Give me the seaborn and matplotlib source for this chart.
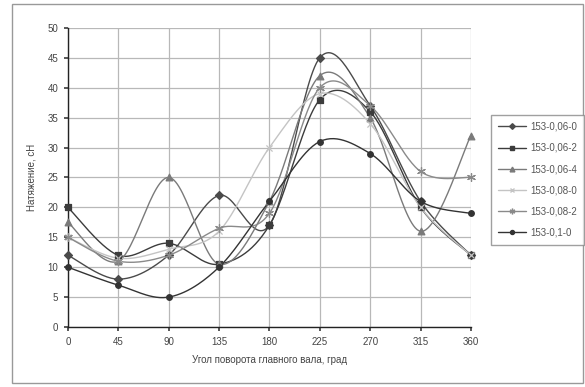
import numpy as np
import pandas as pd
import seaborn as sns
import matplotlib
matplotlib.use("Agg")
import matplotlib.pyplot as plt
from matplotlib.lines import Line2D
from matplotlib.patches import Rectangle

# Rotation angle of the main shaft, degrees
angles = [0, 45, 90, 135, 180, 225, 270, 315, 360]

# Thread tension, cN, for each setting
s_06_0 = [12, 8, 12, 22, 17, 45, 37, 21, 12]
s_06_2 = [20, 12, 14, 10.5, 17, 38, 36, 20, 12]
s_06_4 = [17.5, 11, 25, 10.5, 21, 42, 35, 16, 32]
s_08_0 = [15, 11.5, 13, 16, 30, 39, 34, 20, 12]
s_08_2 = [15, 11, 12, 16.5, 19, 40, 37, 26, 25]
s_1_0 = [10, 7, 5, 10, 21, 31, 29, 21, 19]

labels = ["153-0,06-0", "153-0,06-2", "153-0,06-4",
          "153-0,08-0", "153-0,08-2", "153-0,1-0"]
series = [s_06_0, s_06_2, s_06_4, s_08_0, s_08_2, s_1_0]
colors = ["#4a4a4a", "#3c3c3c", "#7a7a7a", "#c4c4c4", "#8a8a8a", "#333333"]
markers = ["D", "s", "^", "x", (6, 2, 0), "o"]
msizes = [3.2, 3.2, 3.8, 3.5, 4.5, 3.2]

sns.set_theme(style="white")
plt.rcParams["font.family"] = ["Liberation Sans", "DejaVu Sans"]


def smooth(xs, ys, n=30):
    """Bezier smoothing through every point (control points at P1 + (P2 - P0) / 6)."""
    kx = 45 / 8.4
    p = np.column_stack([np.asarray(xs, float) / kx, np.asarray(ys, float)])
    ext = np.vstack([p[0], p, p[-1]])
    out = []
    t = np.linspace(0, 1, n)[:, None]
    for i in range(1, len(ext) - 2):
        p0, p1, p2, p3 = ext[i - 1], ext[i], ext[i + 1], ext[i + 2]
        c1 = p1 + (p2 - p0) / 6
        c2 = p2 - (p3 - p1) / 6
        seg = ((1 - t) ** 3) * p1 + 3 * ((1 - t) ** 2) * t * c1 \
            + 3 * (1 - t) * t ** 2 * c2 + t ** 3 * p2
        out.append(seg if i == 1 else seg[1:])
    out = np.vstack(out)
    return out[:, 0] * kx, out[:, 1]


fig = plt.figure(figsize=(5.85, 3.87), dpi=100)
ax = fig.add_axes([0.116, 0.155, 0.689, 0.773])

for lab, ys, c, m, ms in zip(labels, series, colors, markers, msizes):
    sx, sy = smooth(angles, ys)
    curve = pd.DataFrame({"x": sx, "y": sy})
    sns.lineplot(data=curve, x="x", y="y", sort=False, estimator=None,
                 color=c, linewidth=1.0, ax=ax, legend=False)
    pts = pd.DataFrame({"x": angles, "y": ys})
    sns.scatterplot(data=pts, x="x", y="y", marker=m, s=ms ** 2 * 1.6,
                    color=c, edgecolor=c, linewidth=0.9, ax=ax, legend=False,
                    zorder=3, clip_on=False)

ax.set_xlim(0, 360)
ax.set_ylim(0, 50)
ax.set_xticks(angles)
ax.set_yticks(range(0, 51, 5))
ax.grid(True, color="#b8b8b8", linewidth=0.9)
ax.set_axisbelow(True)
for side in ["top", "right"]:
    ax.spines[side].set_visible(False)
for side in ["left", "bottom"]:
    ax.spines[side].set_color("#222222")
    ax.spines[side].set_linewidth(1.0)
ax.tick_params(axis="both", labelsize=7, colors="#444444", length=3,
               direction="out", left=True, bottom=True, pad=4)
ax.set_xlabel("Угол поворота главного вала, град", fontsize=7, color="#444444",
              labelpad=6)
ax.set_ylabel("Натяжение, сН", fontsize=7, color="#444444", labelpad=8)

handles = [Line2D([0], [0], color=c, marker=m, markersize=ms * 0.9, lw=1.0,
                  markerfacecolor=c, markeredgecolor=c)
           for c, m, ms in zip(colors, markers, msizes)]
leg = fig.legend(handles, labels, loc="upper left",
                 bbox_to_anchor=(491 / 585, 1 - 115 / 387),
                 fontsize=7, frameon=True, fancybox=False,
                 edgecolor="#888888", handlelength=2.9, handletextpad=0.4,
                 labelspacing=1.15, borderpad=0.7, borderaxespad=0)
for t in leg.get_texts():
    t.set_color("#555555")

# chart-area frame
fig.patches.append(Rectangle((12 / 585, 4 / 387), 571 / 585, 379 / 387,
                             transform=fig.transFigure, fill=False,
                             edgecolor="#999999", linewidth=1.0))

fig.savefig("out.png", dpi=100)
